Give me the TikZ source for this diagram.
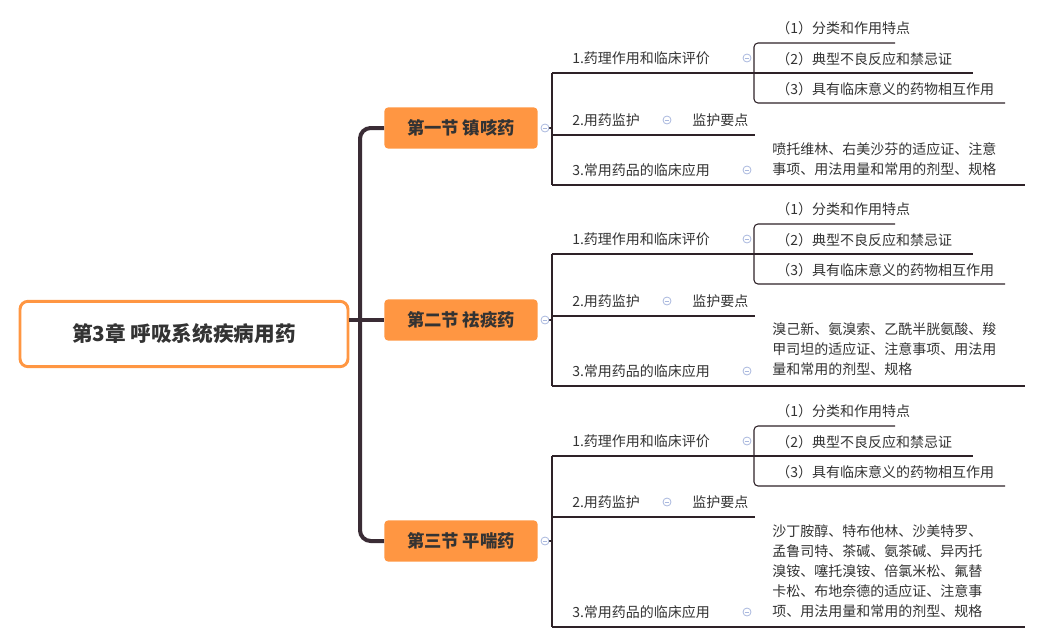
\documentclass[tikz,border=0pt]{standalone}
\usepackage{fontspec}
\newfontfamily\cjk{Noto Sans CJK SC}
\definecolor{org}{HTML}{FF9642}
\definecolor{txt}{HTML}{333333}
\definecolor{trunk}{HTML}{3A2C35}
\definecolor{ln}{HTML}{2E2228}
\definecolor{ic}{HTML}{A9B8DE}
\tikzset{
 item/.style={anchor=west,inner sep=0pt,font=\cjk\fontsize{10.5}{15}\selectfont,text=txt},
 sect/.style={fill=org,rounded corners=3pt,minimum width=115pt,minimum height=31pt,font=\cjk\bfseries\fontsize{13}{15}\selectfont,text=txt},
 ul/.style={draw=ln,line width=0.8pt},
 col/.style={draw=ic,fill=white,line width=0.6pt,circle,minimum size=6pt,inner sep=0pt,path picture={\draw[ic,line width=0.6pt] ([xshift=-1.8pt]path picture bounding box.center)--([xshift=1.8pt]path picture bounding box.center);}}
}
\begin{document}
\begin{tikzpicture}[x=0.75pt,y=-0.75pt]
\useasboundingbox (0,0) rectangle (1040,643);
\node[draw=org,line width=2.2pt,rounded corners=6pt,minimum width=246pt,minimum height=49pt,font=\cjk\bfseries\fontsize{15.5}{18}\selectfont,text=txt] (root) at (184,334) {第3章 呼吸系统疾病用药};
\node[sect] (s1) at (461,128) {第一节 镇咳药};
\node[sect] (s2) at (461,320) {第二节 祛痰药};
\node[sect] (s3) at (461,541) {第三节 平喘药};
\draw[trunk,line width=3pt,rounded corners=8pt] (s1.west)--(360,128)--(360,541)--(s3.west);
\draw[trunk,line width=3pt] (root.east|-s2.west)--(s2.west);
\foreach \o/\lt/\lb/\tt/\tb/\tl/\cy in {0/73/135/170/185/151/128, 181/254/316/371/386/331/320, 383/456/517/612/627/533/541}{
 \draw[ul] (552,\cy)--(545,\cy);
 \draw[ul] (552,\lt)--(552,\tb);
 \draw[ul] (552,\lt)--(754,\lt);
 \draw[ul] (552,\lb)--(755,\lb);
 \draw[ul] (552,\tb)--(1025,\tb);
 \node[col] at (545,\cy) {};
 \node[item] at (572,\lt-15) {1.药理作用和临床评价};
 \node[col] at (747,\lt-15) {};
 \node[item] at (572,\lb-15) {2.用药监护};
 \node[col] at (667,\lb-15) {};
 \node[item] at (692,\lb-15) {监护要点};
 \node[item] at (572,\tt) {3.常用药品的临床应用};
 \node[col] at (747,\tt) {};
 \draw[ul,rounded corners=3pt] (895,\lt-30)--(754,\lt-30)--(754,\lt+30)--(1005,\lt+30);
 \draw[ul] (754,\lt)--(973,\lt);
 \node[item] at (776,\lt-45) {（1）分类和作用特点};
 \node[item] at (776,\lt-14) {（2）典型不良反应和禁忌证};
 \node[item] at (776,\lt+16) {（3）具有临床意义的药物相互作用};
}
\node[item,anchor=north west,align=left] at (772,142) {喷托维林、右美沙芬的适应证、注意\\事项、用法用量和常用的剂型、规格};
\node[item,anchor=north west,align=left] at (772,322) {溴己新、氨溴索、乙酰半胱氨酸、羧\\甲司坦的适应证、注意事项、用法用\\量和常用的剂型、规格};
\node[item,anchor=north west,align=left] at (772,524) {沙丁胺醇、特布他林、沙美特罗、\\孟鲁司特、茶碱、氨茶碱、异丙托\\溴铵、噻托溴铵、倍氯米松、氟替\\卡松、布地奈德的适应证、注意事\\项、用法用量和常用的剂型、规格};
\end{tikzpicture}
\end{document}
